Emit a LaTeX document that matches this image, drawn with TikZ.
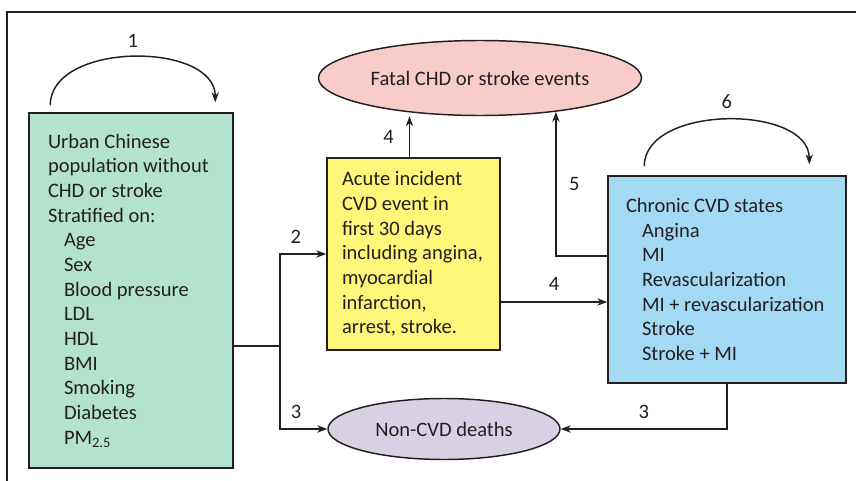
\documentclass[tikz,border=0pt]{standalone}
\usepackage{fontspec}
\setmainfont{Carlito}
\usetikzlibrary{calc,arrows.meta,shapes.geometric}

\definecolor{popgreen}{RGB}{179,226,206}
\definecolor{acuteyellow}{RGB}{255,246,122}
\definecolor{chronicblue}{RGB}{164,217,245}
\definecolor{fatalpink}{RGB}{248,205,201}
\definecolor{deathlilac}{RGB}{216,208,227}
\definecolor{inkline}{RGB}{35,31,32}

\begin{document}
\begin{tikzpicture}[x=0.75pt,y=-0.75pt,>={Stealth[length=7.5pt,width=5.5pt]},
  line width=1.1pt,draw=inkline,
  every node/.style={font=\fontsize{15.4}{18.5}\selectfont,text=inkline},
  statebox/.style={draw,rectangle,inner sep=0pt},
  outcome/.style={draw,ellipse,inner sep=0pt},
  boxtext/.style={anchor=west,align=left,inner sep=0pt}]
  \useasboundingbox (0,0) rectangle (856,481);
  \draw[line width=1.3pt] (7,481) |- (856,12);
  % states
  \node[statebox,fill=popgreen,minimum width=153pt,minimum height=266.25pt] (pop) at (131,290.5) {};
  \node[boxtext] (poptext) at ($(pop.west)+(19,0)$) {Urban Chinese\\population without\\CHD or stroke\\Stratified on:\\
    \hspace*{12pt}Age\\\hspace*{12pt}Sex\\\hspace*{12pt}Blood pressure\\\hspace*{12pt}LDL\\\hspace*{12pt}HDL\\
    \hspace*{12pt}BMI\\\hspace*{12pt}Smoking\\\hspace*{12pt}Diabetes\\\hspace*{12pt}PM\textsubscript{2.5}};
  \node[statebox,fill=acuteyellow,minimum width=129.75pt,minimum height=144pt] (acute) at (413.5,254) {};
  \node[boxtext] (acutetext) at ($(acute.west)+(15,0)$) {Acute incident\\CVD event in\\first 30 days\\including angina,\\myocardial\\infarction,\\arrest, stroke.};
  \node[statebox,fill=chronicblue,minimum width=178.5pt,minimum height=155.25pt] (chronic) at (727,279.5) {};
  \node[boxtext] (chronictext) at ($(chronic.west)+(18,0)$) {Chronic CVD states\\\hspace*{12pt}Angina\\\hspace*{12pt}MI\\
    \hspace*{12pt}Revascularization\\\hspace*{12pt}MI + revascularization\\\hspace*{12pt}Stroke\\\hspace*{12pt}Stroke + MI};
  \node[outcome,fill=fatalpink,minimum width=242.25pt,minimum height=56.25pt] (fatal) at (480,78) {Fatal CHD or stroke events};
  \node[outcome,fill=deathlilac,minimum width=174pt,minimum height=45.75pt] (noncvd) at (444,429) {Non-CVD deaths};
  % transitions
  \coordinate (loopAa) at ($(pop.north west)+(22,-7)$);
  \coordinate (loopAb) at ($(pop.north west)+(187,-10)$);
  \draw[->] (loopAa) .. controls +(0,-64) and +(0,-61) .. (loopAb) node[midway,above=3pt]{1};
  \coordinate (loopBa) at ($(chronic.north west)+(37,-9)$);
  \coordinate (loopBb) at ($(chronic.north west)+(202,-11)$);
  \draw[->] (loopBa) .. controls +(0,-62) and +(0,-60) .. (loopBb) node[midway,above=4.5pt]{6};
  \coordinate (split) at (280,346);
  \draw (pop.east |- split) -- (split);
  \draw[->] (split) |- (acute.west) node[pos=0.67,above=4pt]{2};
  \draw[->] (split) |- (noncvd.west) node[pos=0.67,above=4pt]{3};
  \coordinate (acuteup) at ($(acute.north)+(-4,0)$);
  \draw[->] (acuteup) -- (acuteup |- fatal.south) node[midway,left=8pt]{4};
  \coordinate (acuteout) at ($(acute.east)+(0,48)$);
  \draw[->] (acuteout) -- (acuteout -| chronic.west) node[midway,above=4.5pt]{4};
  \coordinate (chronicout) at ($(chronic.west)+(0,-23.5)$);
  \draw[->] (chronicout) -| (fatal.-24) node[pos=0.75,right=6pt]{5};
  \draw[->] (chronic.south) |- (noncvd.east) node[pos=0.75,above=4pt]{3};
\end{tikzpicture}
\end{document}
